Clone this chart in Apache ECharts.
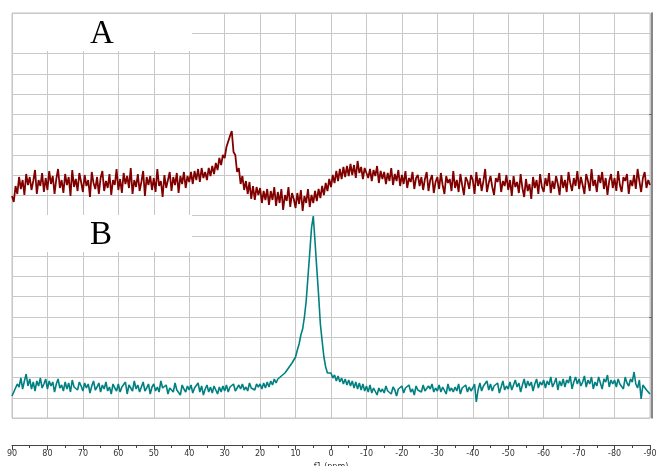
<!DOCTYPE html>
<html>
<head>
<meta charset="utf-8">
<script src="https://cdn.jsdelivr.net/npm/echarts@6/dist/echarts.min.js"></script>
<style>
html,body{margin:0;padding:0;background:#fff;}
#chart{width:656px;height:466px;}
</style>
</head>
<body>
<div id="chart"></div>
<script>
// chemical shift grid (ppm), 90 -> -90 in 0.5 ppm steps
var ppm = [];
for (var i = 0; i <= 360; i++) { ppm.push(90 - 0.5 * i); }

var xTicks = [90, 80, 70, 60, 50, 40, 30, 20, 10, 0, -10, -20, -30, -40, -50, -60, -70, -80, -90];

// Spectrum A (arbitrary intensity units)
var spectrumA = [
222,216,232,224,241,229,238,223,244,233,
241,228,237,248,224,238,232,245,226,240,
228,247,234,242,224,239,249,230,238,225,
244,233,241,222,248,231,239,227,245,236,
226,243,232,238,221,246,235,229,241,224,
240,247,227,237,230,244,223,238,233,249,
228,239,225,245,234,242,230,250,224,238,
231,244,227,236,247,222,241,233,242,228,
240,226,249,232,237,221,243,230,238,246,
227,241,233,245,225,242,234,246,230,242,
236,246,234,247,238,249,236,250,240,246,
238,250,242,252,244,255,248,260,253,263,
260,271,271,282,287,266,263,246,250,234,
242,228,237,224,236,219,232,218,231,223,
230,215,227,218,229,213,227,218,231,212,
226,215,229,208,223,217,231,211,225,219,
210,225,214,228,207,222,215,229,211,223,
215,227,217,229,220,232,223,235,227,239,
231,243,235,247,237,249,239,251,241,252,
242,254,243,253,240,257,245,251,239,250,
252,240,249,237,248,242,252,235,247,239,
246,234,245,237,250,233,244,237,248,232,
243,234,247,230,240,236,246,229,240,243,
232,241,228,239,246,227,238,243,225,236,
241,229,245,233,224,242,235,239,227,247,
230,238,226,244,233,223,241,237,229,243,
238,224,246,232,240,227,237,249,226,235,
242,231,223,240,236,245,226,237,232,243,
228,238,222,242,231,236,225,244,230,221,
239,227,234,219,241,230,238,224,244,231,
226,240,232,245,225,237,229,242,234,223,
243,230,238,226,246,235,227,240,232,247,
229,241,233,224,244,237,227,249,232,238,
226,243,235,246,229,240,223,237,244,230,
240,227,247,233,226,241,237,244,224,238,
232,243,229,249,237,226,240,246,230,238,233
];

// Spectrum B (arbitrary intensity units)
var spectrumB = [
22,26,28,34,31,40,29,37,44,32,
39,29,36,27,37,32,40,30,34,39,
29,37,32,36,26,34,39,30,33,27,
36,29,35,26,38,31,33,28,36,32,
27,35,30,34,25,32,37,28,31,35,
26,33,29,36,27,31,24,34,30,27,
34,26,31,29,36,24,33,30,27,37,
29,33,26,31,36,27,30,34,24,31,
34,27,31,26,37,30,29,33,24,30,
32,26,35,28,30,23,33,29,26,32,
28,33,25,30,29,35,26,32,23,29,
33,26,31,25,32,28,24,31,26,32,
27,33,26,31,29,34,27,30,33,29,
34,28,31,27,35,30,32,28,34,31,
34,29,35,30,36,31,37,33,39,35,
39,38,42,41,45,45,50,51,55,57,
61,68,74,83,89,101,117,141,165,190,
202,176,149,123,94,77,61,51,45,45,
45,40,43,37,42,36,40,34,39,33,
38,32,37,30,36,29,35,28,34,27,
32,26,33,25,30,28,23,30,26,29,
25,32,27,29,24,31,28,22,29,27,
32,25,30,28,33,26,29,23,32,28,
30,26,33,27,25,32,29,34,26,30,
27,33,26,31,29,24,34,27,30,26,
31,27,34,24,30,29,33,26,31,27,
30,34,16,28,35,27,32,30,37,28,
34,27,32,30,35,25,31,37,28,32,
29,36,28,33,38,31,35,26,33,39,
30,37,32,36,27,34,39,30,36,33,
38,30,37,33,41,31,35,40,28,37,
32,39,31,38,35,42,29,36,41,34,
39,32,36,42,31,38,34,41,29,36,
32,41,35,29,39,36,43,31,38,34,
38,31,39,34,36,29,41,35,32,39,
36,46,34,30,38,19,33,35,28,30,24
];

var labels = ['A', 'B'];
var rightTicks = [5, 15];

var chart = echarts.init(document.getElementById('chart'), null, {renderer: 'canvas'});

var dataA = ppm.map(function (x, i) { return [x, spectrumA[i]]; });
var dataB = ppm.map(function (x, i) { return [x, spectrumB[i]]; });

var option = {
  animation: false,
  backgroundColor: '#ffffff',
  grid: {
    left: 12, right: 6, top: 13, bottom: 48,
    outerBoundsMode: 'none',
    containLabel: false,
    show: true, borderColor: '#c4c4c4', borderWidth: 1, backgroundColor: 'transparent'
  },
  xAxis: {
    type: 'value',
    min: -90, max: 90, interval: 10,
    inverse: true,
    offset: 27,
    name: 'f1 (ppm)',
    nameLocation: 'middle',
    nameGap: 14,
    nameTextStyle: {fontSize: 8, color: '#333', fontFamily: 'DejaVu Sans'},
    axisLine: {show: true, onZero: false, lineStyle: {color: '#444', width: 1}},
    axisTick: {show: true, length: 5, lineStyle: {color: '#444'}},
    minorTick: {show: true, splitNumber: 2, length: 3, lineStyle: {color: '#444'}},
    axisLabel: {
      fontSize: 8, color: '#333', fontFamily: 'DejaVu Sans', margin: 5,
      showMinLabel: true, showMaxLabel: true,
      formatter: function (v) { return xTicks.indexOf(v) >= 0 ? String(v) : ''; }
    },
    splitLine: {show: true, lineStyle: {color: '#c8c8c8', width: 1}}
  },
  yAxis: [
    {
      type: 'value',
      min: 0, max: 405, interval: 20.25,
      axisLine: {show: false},
      axisTick: {show: false},
      axisLabel: {show: false},
      splitLine: {show: true, lineStyle: {color: '#c8c8c8', width: 1}}
    },
    {
      type: 'value',
      position: 'right',
      min: 0, max: 20,
      offset: 2,
      axisLine: {show: true, lineStyle: {color: '#6a6a6a', width: 1.6}},
      axisTick: {show: true, inside: true, length: 3, customValues: rightTicks, lineStyle: {color: '#6a6a6a'}},
      axisLabel: {show: false},
      splitLine: {show: false}
    }
  ],
  graphic: [
    {type: 'rect', z: 1, shape: {x: 13, y: 14, width: 179, height: 37}, style: {fill: '#ffffff'}},
    {type: 'rect', z: 1, shape: {x: 13, y: 215, width: 179, height: 37}, style: {fill: '#ffffff'}},
    {type: 'text', z: 3, x: 102, y: 34, style: {text: labels[0], fontSize: 33, fontFamily: 'Liberation Serif', fill: '#000', align: 'center', verticalAlign: 'middle'}},
    {type: 'text', z: 3, x: 101, y: 235, style: {text: labels[1], fontSize: 33, fontFamily: 'Liberation Serif', fill: '#000', align: 'center', verticalAlign: 'middle'}}
  ],
  series: [
    {
      name: 'A', type: 'line', data: dataA, showSymbol: false, z: 5,
      lineStyle: {color: '#800000', width: 1.8}, itemStyle: {color: '#800000'}
    },
    {
      name: 'B', type: 'line', data: dataB, showSymbol: false, z: 5,
      lineStyle: {color: '#008080', width: 1.6}, itemStyle: {color: '#008080'}
    }
  ]
};
chart.setOption(option);
</script>
</body>
</html>
